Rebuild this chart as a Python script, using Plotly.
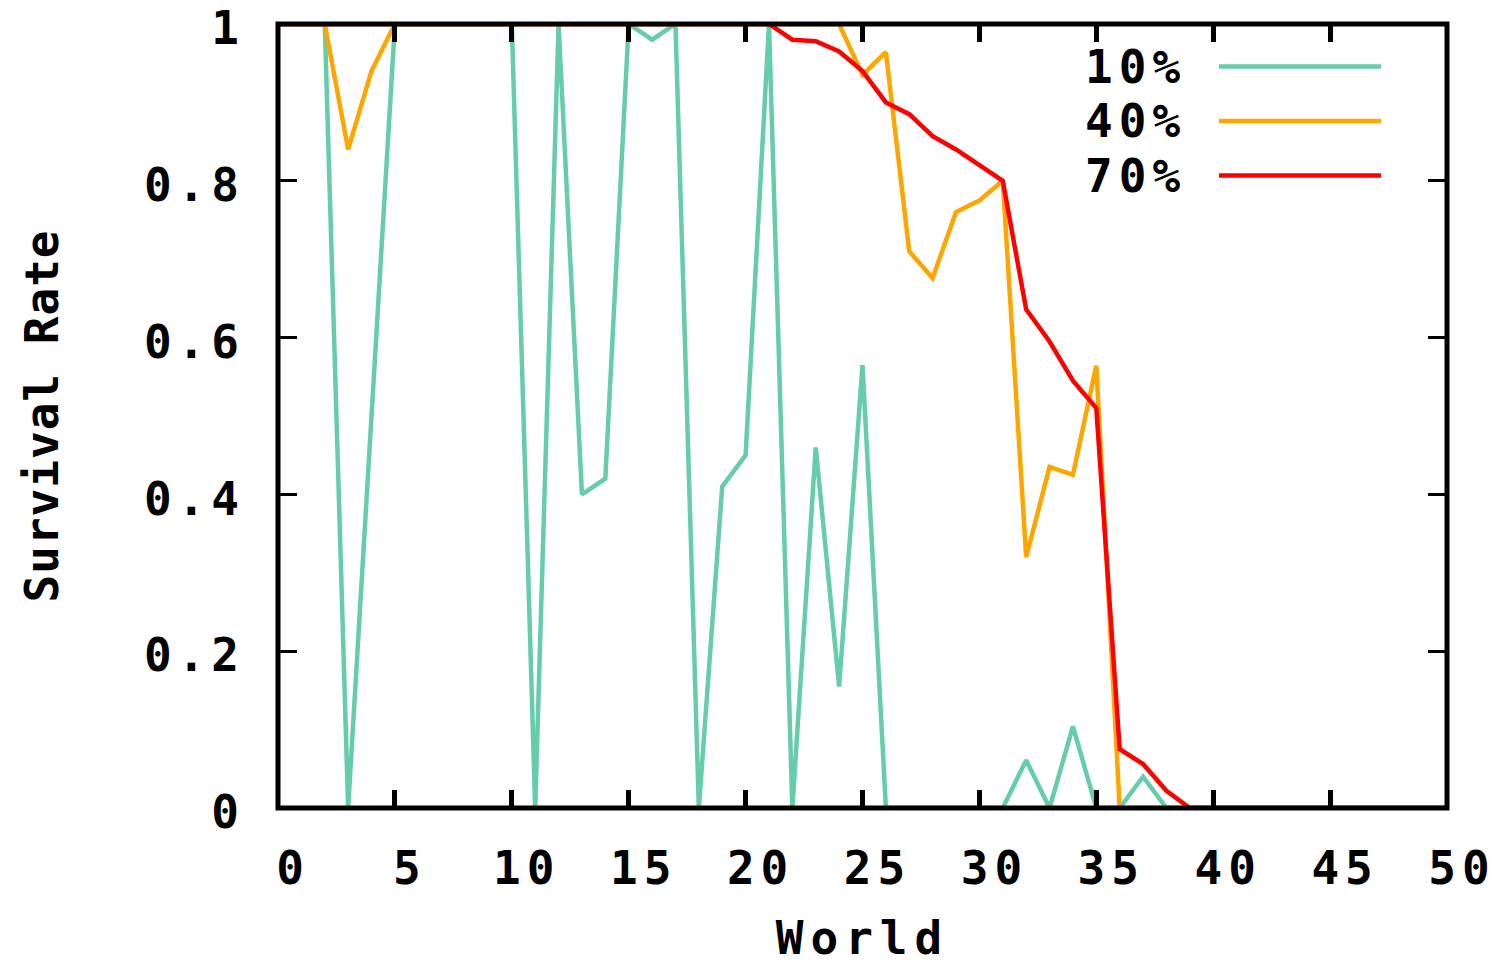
import plotly.graph_objects as go

# ---- data ----
worlds = list(range(0, 51))
rate_10 = [1, 1, 1, 0, 0.5, 1, 1, 1, 1, 1,
           1, 0, 1, 0.40, 0.42, 1, 0.98, 1, 0, 0.41,
           0.45, 1, 0, 0.46, 0.155, 0.565, 0, 0, 0, 0,
           0, 0, 0.061, 0, 0.104, 0, 0, 0.04, 0, 0,
           0, 0, 0, 0, 0, 0, 0, 0, 0, 0, 0]
rate_40 = [1, 1, 1, 0.84, 0.94, 1, 1, 1, 1, 1,
           1, 1, 1, 1, 1, 1, 1, 1, 1, 1,
           1, 1, 1, 1, 1, 0.935, 0.964, 0.71, 0.676, 0.76,
           0.775, 0.80, 0.32, 0.435, 0.425, 0.564, 0, 0, 0, 0,
           0, 0, 0, 0, 0, 0, 0, 0, 0, 0, 0]
rate_70 = [1, 1, 1, 1, 1, 1, 1, 1, 1, 1,
           1, 1, 1, 1, 1, 1, 1, 1, 1, 1,
           1, 1, 0.98, 0.978, 0.965, 0.94, 0.90, 0.885, 0.857, 0.84,
           0.82, 0.80, 0.636, 0.595, 0.545, 0.51, 0.075, 0.056, 0.022, 0,
           0, 0, 0, 0, 0, 0, 0, 0, 0, 0, 0]
series_names = ["10%", "40%", "70%"]
series_colors = ["#66CDAA", "#FFA500", "#FF0000"]
x_ticks = list(range(0, 51, 5))
y_ticks = [0, 0.2, 0.4, 0.6, 0.8, 1]
y_tick_labels = ["0", "0.2", "0.4", "0.6", "0.8", "1"]
x_title = "World"
y_title = "Survival Rate"

FONT = dict(family="DejaVu Sans Mono", size=46, color="black", weight="bold")


def spaced(s, px=6):
    return '<span style="letter-spacing:%dpx">%s</span>' % (px, s)


fig = go.Figure()
for name, vals, col in zip(series_names, [rate_10, rate_40, rate_70], series_colors):
    fig.add_trace(go.Scatter(x=worlds, y=vals, mode="lines", name=name,
                             line=dict(color=col, width=4.5), showlegend=False))

W, H = 1503, 965
ml, mr, mt, mb = 278, 56, 24, 157
pw, ph = W - ml - mr, H - mt - mb


def px2paper_x(px):
    return (px - ml) / pw


def px2paper_y(py):
    return (H - mb - py) / ph


shapes = [dict(type="rect", xref="paper", yref="paper", x0=0, x1=1, y0=0, y1=1,
               line=dict(color="black", width=5), layer="above")]
annotations = []
legend_y_px = [66.5, 121, 175.5]
for name, col, ypx in zip(series_names, series_colors, legend_y_px):
    yp = px2paper_y(ypx)
    shapes.append(dict(type="line", xref="paper", yref="paper",
                       x0=px2paper_x(1219), x1=px2paper_x(1381), y0=yp, y1=yp,
                       line=dict(color=col, width=4.5), layer="above"))
    annotations.append(dict(text=spaced(name), xref="paper", yref="paper",
                            x=px2paper_x(1188), y=yp, xanchor="right", yanchor="middle",
                            showarrow=False, font=FONT))

fig.update_layout(
    width=W, height=H,
    margin=dict(l=ml, r=mr, t=mt, b=mb, autoexpand=False),
    paper_bgcolor="white", plot_bgcolor="white",
    shapes=shapes, annotations=annotations,
    xaxis=dict(range=[0, 50], tickvals=x_ticks, ticktext=[spaced(str(v)) for v in x_ticks],
               ticks="inside", ticklen=18, tickwidth=5, automargin=False,
               tickcolor="black", mirror="allticks", showline=False, showgrid=False,
               zeroline=False, tickfont=FONT, ticklabelshift=15, ticklabelstandoff=29,
               ticklabeloverflow="allow",
               title=dict(text=spaced(x_title, 7), font=FONT, standoff=35)),
    yaxis=dict(range=[0, 1], tickvals=y_ticks, ticktext=[spaced(t) for t in y_tick_labels],
               ticks="inside", ticklen=19, tickwidth=3, tickcolor="black", mirror="allticks",
               showline=False, showgrid=False, zeroline=False, tickfont=FONT,
               ticklabelstandoff=32, ticklabelshift=4, ticklabeloverflow="allow",
               automargin=False,
               title=dict(text=spaced(y_title, 1), font=FONT, standoff=70)),
)

fig.write_html("out.html", config={"displayModeBar": False},
               post_script="document.body.style.margin='0px';")
